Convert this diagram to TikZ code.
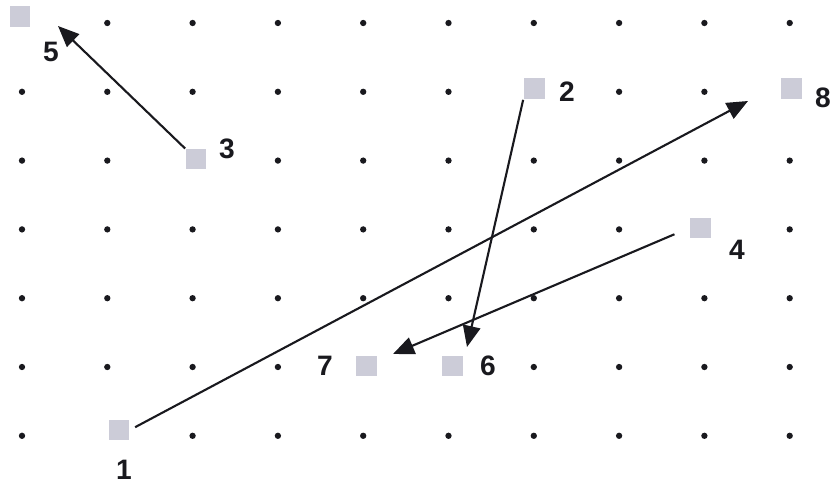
\documentclass[tikz,border=0pt]{standalone}
\usepackage{fontspec}
\setmainfont{Liberation Sans}
\usepackage{tikz}
\usetikzlibrary{arrows.meta, positioning}
\definecolor{sqgray}{RGB}{204,204,216}
\definecolor{inkblack}{RGB}{25,25,30}
\tikzset{
  gridpt/.style={circle, fill=inkblack, inner sep=0pt, minimum size=3.6pt},
  sq/.style={rectangle, fill=sqgray, inner sep=0pt, minimum size=0.42cm},
  lab/.style={inner sep=0pt, font=\fontsize{16}{18}\selectfont\bfseries, text=inkblack},
  move/.style={-{Triangle[length=12pt, width=10pt]}, line width=1.2pt, color=inkblack},
}

\begin{document}
\begin{tikzpicture}[x=0.02cm, y=-0.02cm]
  \useasboundingbox (0,0) rectangle (832,486);

  % dot grid, skipping the places taken by squares
  \foreach \i in {0,...,9} {
    \foreach \j in {0,...,6} {
      \pgfmathtruncatemacro{\hide}{(\i==0 && \j==0) || (\i==2 && \j==2) ||
        (\i==6 && \j==1) || (\i==9 && \j==1) || (\i==8 && \j==3) ||
        (\i==4 && \j==5) || (\i==5 && \j==5) || (\i==1 && \j==6)}
      \ifnum\hide=0
        \node[gridpt] at ({22+85.3*\i}, {23+68.8*\j}) {};
      \fi
    }
  }

  % squares
  \node[sq] (sq5) at (20,17) {};
  \node[sq] (sq3) at (196,159) {};
  \node[sq] (sq2) at (534,89) {};
  \node[sq] (sq8) at (791,89) {};
  \node[sq] (sq4) at (700,228) {};
  \node[sq] (sq7) at (366,366) {};
  \node[sq] (sq6) at (452,366) {};
  \node[sq] (sq1) at (119,430) {};

  % numbers
  \node[lab, below right=0.28cm and 0.24cm of sq5] (lab5) {5};
  \node[lab, right=0.24cm of sq3, yshift=0.2cm] (lab3) {3};
  \node[lab, right=0.28cm of sq2, yshift=-0.06cm] (lab2) {2};
  \node[lab, right=0.26cm of sq8, yshift=-0.18cm] (lab8) {8};
  \node[lab, right=0.36cm of sq4, yshift=-0.44cm] (lab4) {4};
  \node[lab, left=0.44cm of sq7] (lab7) {7};
  \node[lab, right=0.34cm of sq6] (lab6) {6};
  \node[lab, below=0.38cm of sq1, xshift=0.1cm] (lab1) {1};

  % arrow ends
  \coordinate (end5) at (58,26);
  \coordinate (end6) at (467,347);
  \coordinate (end7) at (393,354);
  \coordinate (end8) at (748,101);

  \draw[move] (sq3) -- (end5);
  \draw[move] (sq2.south west) -- (end6);
  \draw[move, shorten <=0.32cm] (sq4.west) -- (end7);
  \draw[move, shorten <=0.12cm] (sq1.east) -- (end8);
\end{tikzpicture}
\end{document}
